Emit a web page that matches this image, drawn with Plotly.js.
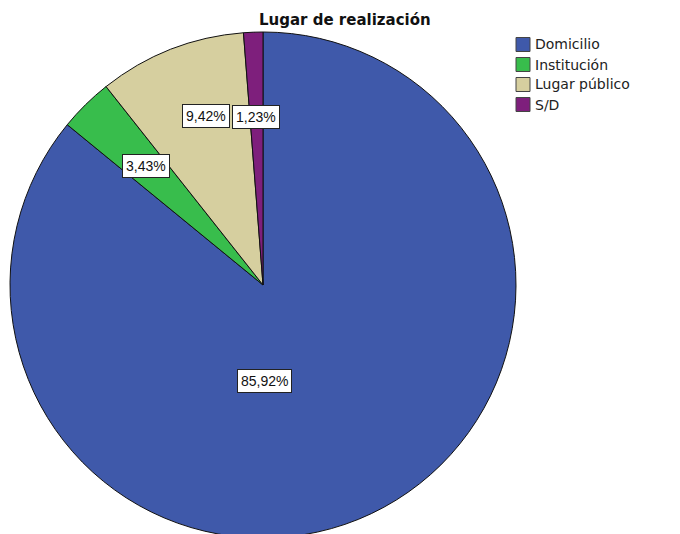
<!DOCTYPE html>
<html>
<head>
<meta charset="utf-8">
<script src="https://cdn.plot.ly/plotly-3.0.1.min.js"></script>
<style>
html,body{margin:0;padding:0;overflow:hidden;background:#fff;}
#chart{width:680px;height:540px;}
</style>
</head>
<body>
<div id="chart"></div>
<script>
// Data
const categories = ["Domicilio", "Institución", "Lugar público", "S/D"];
const percents = [85.92, 3.43, 9.42, 1.23];
const colors = ["#3F59AA", "#38BD4C", "#D6CF9F", "#7E1F7C"];

// Layout helpers (pixels)
const W = 680, H = 540;
const cx = 263, cy = 285, R = 253;
const labelPx = [[264, 381], [146, 166], [206, 116], [256, 117]];
const legendX = 516, legendY0 = 44.5, legendStep = 20, sq = 14;

function fmt(v){ return v.toFixed(2).replace('.', ',') + '%'; }
const px = x => x / W;
const py = y => 1 - y / H;

const trace = {
  type: 'pie',
  labels: categories,
  values: percents,
  sort: false,
  direction: 'clockwise',
  rotation: 0,
  textinfo: 'none',
  hoverinfo: 'label+percent',
  marker: {colors: colors, line: {color: '#111', width: 1}},
  domain: {x: [px(cx - R), px(cx + R)], y: [py(cy + R), py(cy - R)]}
};

const annotations = percents.map((v, i) => ({
  x: px(labelPx[i][0]), y: py(labelPx[i][1]),
  xref: 'paper', yref: 'paper', xanchor: 'center', yanchor: 'middle',
  text: fmt(v), showarrow: false,
  bgcolor: '#ffffff', bordercolor: '#222', borderwidth: 1, borderpad: 3,
  font: {family: 'Liberation Sans, Arial, sans-serif', size: 14, color: '#111'}
}));

annotations.push({
  x: px(345), y: py(20), xref: 'paper', yref: 'paper',
  xanchor: 'center', yanchor: 'middle',
  text: '<b>Lugar de realización</b>', showarrow: false,
  font: {family: 'DejaVu Sans, sans-serif', size: 15, color: '#111'}
});

// custom legend
const shapes = [];
categories.forEach((c, i) => {
  const yc = legendY0 + i * legendStep;
  shapes.push({
    type: 'rect', xref: 'paper', yref: 'paper',
    x0: px(legendX), x1: px(legendX + sq), y0: py(yc + sq / 2), y1: py(yc - sq / 2),
    fillcolor: colors[i], line: {color: '#444', width: 1}
  });
  annotations.push({
    x: px(legendX + sq + 3), y: py(yc), xref: 'paper', yref: 'paper',
    xanchor: 'left', yanchor: 'middle', showarrow: false, text: c,
    font: {family: 'DejaVu Sans, sans-serif', size: 14, color: '#222'}
  });
});

const layout = {
  width: W, height: H,
  margin: {l: 0, r: 0, t: 0, b: 0},
  paper_bgcolor: '#fff',
  showlegend: false,
  annotations: annotations,
  shapes: shapes
};

Plotly.newPlot('chart', [trace], layout, {displayModeBar: false, staticPlot: true});
</script>
</body>
</html>
